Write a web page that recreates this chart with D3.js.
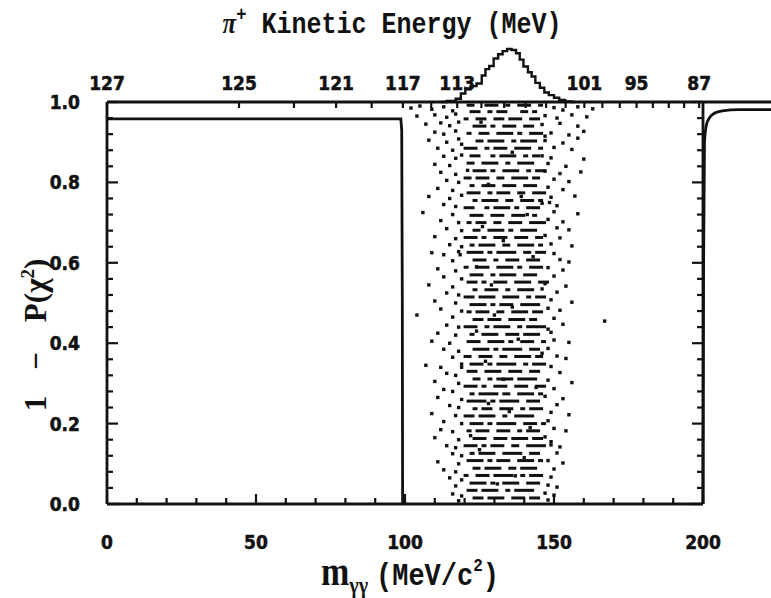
<!DOCTYPE html>
<html>
<head>
<meta charset="utf-8">
<script src="https://cdn.jsdelivr.net/npm/d3@7"></script>
<style>
  body { margin: 0; background: #fff; }
  svg { display: block; }
</style>
</head>
<body>
<div id="chart"></div>
<script>
//Width and height
let w = 771;
let h = 598;
let ink = "#111";
let tickFont = "'Liberation Sans Narrow', 'DejaVu Sans Condensed', 'Liberation Sans', sans-serif";
let monoFont = "'Liberation Mono', 'DejaVu Sans Mono', monospace";
let serifFont = "'Liberation Serif', 'DejaVu Serif', serif";

// kaon and pion masses (MeV), used for the pi+ kinetic energy axis on top
let massK = 493.7;
let massPi = 139.6;

// axis ticks
let xMajor = [0, 50, 100, 150, 200];
let yMajor = [0.0, 0.2, 0.4, 0.6, 0.8, 1.0];
let topTicks = [127, 125, 123, 121, 119, 117, 115, 113, 111, 109, 107, 105, 103, 101, 99, 97, 95, 93, 91, 89, 87];
let topLabels = [127, 125, 121, 117, 113, 101, 95, 87];

// acceptance curves, [m_gg, 1-P(chi2)]
let lowCut = [[0, 0.958], [98.6, 0.958], [98.9, 0.93], [99.1, 0.5], [99.2, 0]];
let highCut = [[200, 0], [200.2, 0.6], [200.5, 0.9], [201.2, 0.945], [202.3, 0.962], [203.8, 0.972], [206.5, 0.978], [212, 0.981], [224, 0.981]];

// pi+ kinetic energy spectrum drawn above the frame, [m_gg, relative counts]
let pionHist = [[112, 0], [116, 2], [118, 6], [119.5, 16], [121, 24], [123, 30], [125, 35], [126.5, 50],
  [127.5, 62], [129, 68], [130.5, 82], [132, 90], [133.5, 96], [135, 100], [136.5, 98], [138, 92],
  [139, 80], [140.5, 67], [142, 56], [143, 48], [144.5, 36], [146, 27], [147.5, 18], [149, 13],
  [151, 8], [152.5, 4], [155, 1], [157, 0]];

// dense band of events: [level, dash start, dash end, dash start, dash end, ...]
let coreRows = [
  [0.992, 121, 123, 127, 131, 134, 135, 138, 142, 145, 146],
  [0.976, 122, 125, 128, 129, 131, 134, 139, 141, 143, 144],
  [0.958, 120, 121, 124, 127, 130, 133, 135, 139, 142, 145],
  [0.940, 123, 127, 129, 130, 133, 137, 140, 143],
  [0.922, 121, 122, 125, 128, 131, 136, 138, 139, 142, 146],
  [0.903, 124, 126, 128, 133, 136, 137, 139, 144],
  [0.885, 120, 124, 127, 128, 130, 134, 137, 142, 145, 146],
  [0.866, 122, 125, 129, 130, 132, 137, 140, 141, 143, 145],
  [0.848, 121, 123, 126, 131, 134, 135, 138, 143],
  [0.829, 123, 127, 129, 130, 133, 138, 141, 142, 144, 147],
  [0.811, 120, 122, 124, 128, 131, 133, 136, 141, 143, 145],
  [0.792, 122, 123, 126, 130, 133, 137, 140, 144],
  [0.774, 121, 125, 128, 129, 131, 135, 138, 140, 143, 147],
  [0.755, 123, 124, 126, 131, 134, 136, 139, 143, 145, 146],
  [0.737, 120, 123, 127, 128, 130, 135, 137, 138, 141, 145],
  [0.718, 122, 126, 129, 133, 136, 140, 143, 144],
  [0.700, 121, 122, 124, 127, 130, 132, 135, 139, 142, 147],
  [0.681, 123, 125, 128, 133, 135, 136, 139, 144],
  [0.663, 120, 124, 126, 127, 130, 134, 137, 141, 144, 146],
  [0.644, 122, 123, 125, 130, 133, 135, 138, 143, 145, 146],
  [0.626, 121, 126, 128, 129, 131, 137, 140, 142, 144, 147],
  [0.607, 123, 127, 130, 131, 134, 138, 141, 145],
  [0.589, 120, 121, 124, 128, 131, 136, 138, 139, 142, 146],
  [0.570, 122, 126, 129, 130, 132, 137, 140, 144],
  [0.552, 121, 124, 126, 127, 130, 134, 137, 142, 145, 148],
  [0.533, 123, 124, 127, 131, 134, 135, 138, 143],
  [0.515, 120, 123, 125, 130, 133, 138, 141, 142, 144, 147],
  [0.496, 122, 127, 129, 130, 132, 136, 139, 145],
  [0.478, 121, 122, 124, 128, 131, 133, 136, 141, 143, 146],
  [0.459, 123, 126, 128, 132, 135, 140, 142, 144],
  [0.441, 120, 124, 127, 128, 130, 135, 138, 139, 141, 147],
  [0.422, 122, 123, 126, 131, 134, 138, 140, 145],
  [0.404, 121, 125, 128, 133, 135, 136, 139, 143, 146, 147],
  [0.385, 123, 128, 130, 131, 133, 139, 142, 145],
  [0.367, 120, 122, 125, 129, 132, 134, 137, 142, 144, 146],
  [0.348, 122, 126, 128, 129, 131, 137, 140, 141, 143, 147],
  [0.330, 121, 124, 127, 132, 135, 139, 142, 145],
  [0.311, 123, 125, 128, 129, 131, 136, 138, 144],
  [0.293, 120, 124, 126, 127, 130, 134, 137, 141, 144, 147],
  [0.274, 122, 123, 125, 131, 133, 135, 138, 143, 145, 146],
  [0.256, 121, 127, 129, 130, 132, 138, 141, 145],
  [0.237, 123, 124, 126, 129, 132, 136, 139, 140, 142, 146],
  [0.219, 120, 123, 125, 130, 133, 134, 137, 143],
  [0.200, 122, 126, 128, 129, 131, 137, 140, 144, 146, 147],
  [0.182, 121, 122, 124, 128, 131, 135, 138, 139, 141, 145],
  [0.163, 123, 127, 130, 134, 136, 141, 143, 146],
  [0.145, 120, 124, 126, 127, 129, 133, 136, 138, 141, 147],
  [0.126, 122, 123, 125, 130, 133, 139, 142, 145],
  [0.108, 121, 126, 128, 129, 131, 135, 138, 143, 145, 146],
  [0.089, 123, 125, 127, 132, 135, 137, 139, 144],
  [0.071, 120, 121, 124, 128, 130, 136, 139, 140, 142, 146],
  [0.052, 122, 127, 129, 130, 133, 138, 141, 145],
  [0.034, 121, 124, 126, 131, 134, 135, 137, 143],
  [0.015, 123, 126, 128, 133, 136, 140, 142, 145]
];

// isolated events in and around the band, [m_gg, level]
let looseDots = [
  [102, 0.985], [105, 0.99], [109, 0.982], [113, 0.988], [116, 0.978], [150, 0.986], [153, 0.98], [158, 0.988], [163, 0.983],
  [104, 0.965], [110, 0.968], [114, 0.962], [117, 0.97], [147, 0.966], [151, 0.96], [156, 0.968], [161, 0.963],
  [107, 0.945], [112, 0.948], [115, 0.941], [118, 0.95], [146, 0.944], [152, 0.947], [158, 0.94],
  [110, 0.925], [113, 0.92], [117, 0.928], [149, 0.923], [155, 0.918], [160, 0.927],
  [108, 0.905], [114, 0.9], [118, 0.908], [147, 0.904], [153, 0.898], [158, 0.91],
  [111, 0.885], [116, 0.88], [150, 0.887], [156, 0.882],
  [113, 0.865], [117, 0.86], [119, 0.868], [146, 0.866], [149, 0.861], [160, 0.858],
  [110, 0.845], [115, 0.842], [148, 0.847], [154, 0.84],
  [112, 0.825], [117, 0.82], [147, 0.828], [152, 0.822], [159, 0.826],
  [114, 0.805], [118, 0.8], [150, 0.808], [155, 0.802],
  [111, 0.785], [116, 0.78], [148, 0.788], [153, 0.782],
  [108, 0.765], [115, 0.76], [119, 0.768], [149, 0.763], [157, 0.766],
  [113, 0.745], [117, 0.74], [146, 0.748], [151, 0.742],
  [106, 0.725], [116, 0.72], [150, 0.727], [158, 0.722],
  [112, 0.705], [118, 0.7], [148, 0.708], [153, 0.702],
  [114, 0.685], [119, 0.68], [151, 0.687], [155, 0.682],
  [110, 0.665], [117, 0.66], [147, 0.668], [152, 0.662],
  [115, 0.645], [119, 0.64], [149, 0.647], [156, 0.642],
  [109, 0.625], [113, 0.62], [118, 0.628], [150, 0.623],
  [116, 0.605], [152, 0.608], [155, 0.602],
  [111, 0.585], [117, 0.58], [148, 0.588], [153, 0.582],
  [113, 0.565], [119, 0.56], [150, 0.567],
  [108, 0.545], [116, 0.54], [147, 0.548], [154, 0.542],
  [114, 0.525], [118, 0.52], [151, 0.527],
  [110, 0.505], [117, 0.5], [149, 0.508], [156, 0.502],
  [112, 0.485], [119, 0.48], [148, 0.487], [152, 0.482],
  [104, 0.47], [116, 0.465], [150, 0.462], [167, 0.455],
  [114, 0.445], [118, 0.44], [153, 0.447],
  [111, 0.425], [117, 0.42], [149, 0.427],
  [109, 0.405], [115, 0.4], [150, 0.408], [155, 0.402],
  [113, 0.385], [118, 0.38], [148, 0.387],
  [116, 0.365], [151, 0.368], [154, 0.362],
  [107, 0.345], [112, 0.34], [119, 0.348], [149, 0.342],
  [114, 0.325], [117, 0.32], [152, 0.327],
  [110, 0.305], [118, 0.3], [148, 0.308], [156, 0.302],
  [113, 0.285], [116, 0.28], [150, 0.287],
  [111, 0.265], [119, 0.26], [147, 0.268], [153, 0.262],
  [115, 0.245], [118, 0.24], [151, 0.247],
  [109, 0.225], [117, 0.22], [149, 0.228], [155, 0.222],
  [113, 0.205], [119, 0.2], [148, 0.207],
  [112, 0.185], [116, 0.18], [150, 0.188], [154, 0.182],
  [110, 0.165], [118, 0.16], [147, 0.167],
  [114, 0.145], [117, 0.14], [149, 0.147], [152, 0.142],
  [116, 0.125], [119, 0.12], [151, 0.127],
  [111, 0.105], [118, 0.1], [148, 0.108], [153, 0.102],
  [113, 0.085], [117, 0.08], [150, 0.087],
  [115, 0.065], [119, 0.06], [149, 0.067],
  [117, 0.045], [148, 0.047], [151, 0.042],
  [116, 0.025], [119, 0.02], [147, 0.027], [150, 0.022],
  [118, 0.008], [148, 0.01],
  [125.5, 0.95], [136, 0.875], [128, 0.795], [141, 0.72], [133, 0.655], [124, 0.59], [146, 0.535],
  [130, 0.47], [138, 0.41], [127, 0.355], [144, 0.29], [135, 0.23], [122, 0.17], [140, 0.115],
  [131, 0.05], [147, 0.915], [121, 0.83], [139, 0.765], [126, 0.69], [143, 0.615], [129, 0.545],
  [136, 0.49], [124, 0.43], [146, 0.375], [133, 0.31], [128, 0.25], [142, 0.19], [125, 0.135],
  [137, 0.07], [119, 0.895], [118.5, 0.62], [119, 0.34], [148.5, 0.75], [148, 0.435], [149, 0.155]
];

// m_gg where the pi+ has kinetic energy t (K+ decay at rest)
function massFromT(t) {
    let ePi = t + massPi;
    let m2 = massK * massK + massPi * massPi - 2 * massK * ePi;
    return Math.sqrt(Math.max(m2, 0));
}

let x = d3.scaleLinear().domain([0, 200]).range([107, 703]);
let y = d3.scaleLinear().domain([0, 1]).range([504, 102]);
let histScale = d3.scaleLinear().domain([0, 100]).range([0, 53]);

//Create SVG element
let svg = d3.select("#chart")
            .append("svg")
            .attr("width", w)
            .attr("height", h);

svg.append("rect").attr("width", w).attr("height", h).attr("fill", "#fff");

// events
let dashes = [];
coreRows.forEach(function(row) {
    for (let i = 1; i < row.length; i += 2) {
        dashes.push({lvl: row[0], a: row[i], b: row[i + 1]});
    }
});

svg.append("g").selectAll("rect")
   .data(dashes)
   .enter()
   .append("rect")
   .attr("x", function(d) { return x(d.a) - 1; })
   .attr("y", function(d) { return y(d.lvl) - 1.5; })
   .attr("width", function(d) { return x(d.b) - x(d.a) + 2; })
   .attr("height", 3)
   .attr("fill", ink);

svg.append("g").selectAll("rect")
   .data(looseDots)
   .enter()
   .append("rect")
   .attr("x", function(d) { return x(d[0]) - 1.7; })
   .attr("y", function(d) { return y(d[1]) - 1.7; })
   .attr("width", 3.4)
   .attr("height", 3.4)
   .attr("fill", ink);

// frame
let frame = svg.append("g")
               .attr("fill", "none")
               .attr("stroke", ink)
               .attr("stroke-width", 2.8);

frame.append("line").attr("x1", x(0)).attr("x2", x(0)).attr("y1", y(0)).attr("y2", y(1));
frame.append("line").attr("x1", x(0)).attr("x2", x(200)).attr("y1", y(0)).attr("y2", y(0));
frame.append("line").attr("x1", x(200)).attr("x2", x(200)).attr("y1", y(0)).attr("y2", y(1));
frame.append("line").attr("x1", x(0)).attr("x2", w).attr("y1", y(1)).attr("y2", y(1));

// ticks
let ticks = svg.append("g").attr("stroke", ink).attr("stroke-width", 2.2);

d3.range(0, 201, 10).forEach(function(v) {
    let len = xMajor.indexOf(v) >= 0 ? 10 : 6;
    ticks.append("line").attr("x1", x(v)).attr("x2", x(v)).attr("y1", y(0)).attr("y2", y(0) - len);
});

d3.range(0, 26).forEach(function(i) {
    let v = i * 0.04;
    let len = (i % 5 === 0) ? 11 : 6;
    ticks.append("line").attr("x1", x(0)).attr("x2", x(0) + len).attr("y1", y(v)).attr("y2", y(v));
    ticks.append("line").attr("x1", x(200)).attr("x2", x(200) - len).attr("y1", y(v)).attr("y2", y(v));
});

topTicks.forEach(function(t) {
    let m = massFromT(t);
    ticks.append("line").attr("x1", x(m)).attr("x2", x(m)).attr("y1", y(1)).attr("y2", y(1) + 6);
});

// tick labels
function tickLabel(sel) {
    sel.style("font", "bold 19px " + tickFont)
       .attr("fill", ink)
       .attr("stroke", ink)
       .attr("stroke-width", 0.5);
}

svg.append("g").selectAll("text")
   .data(xMajor)
   .enter()
   .append("text")
   .attr("x", function(d) { return x(d); })
   .attr("y", 549)
   .attr("text-anchor", "middle")
   .call(tickLabel)
   .text(function(d) { return d; });

svg.append("g").selectAll("text")
   .data(yMajor)
   .enter()
   .append("text")
   .attr("x", 80)
   .attr("y", function(d) { return y(d) + 7; })
   .attr("text-anchor", "end")
   .call(tickLabel)
   .text(function(d) { return d.toFixed(1); });

svg.append("g").selectAll("text")
   .data(topLabels)
   .enter()
   .append("text")
   .attr("x", function(d) { return x(massFromT(d)); })
   .attr("y", 90)
   .attr("text-anchor", "middle")
   .call(tickLabel)
   .text(function(d) { return d; });

// acceptance curves
let line = d3.line()
             .x(function(d) { return x(d[0]); })
             .y(function(d) { return y(d[1]); });

svg.append("path").datum(lowCut).attr("d", line)
   .attr("fill", "none").attr("stroke", ink).attr("stroke-width", 2.8);

svg.append("path").datum(highCut).attr("d", line.curve(d3.curveMonotoneX))
   .attr("fill", "none").attr("stroke", ink).attr("stroke-width", 2.8);

// pi+ spectrum on top of the frame
let histLine = d3.line()
                 .x(function(d) { return x(d[0]); })
                 .y(function(d) { return y(1) - histScale(d[1]); })
                 .curve(d3.curveStep);

svg.append("path").datum(pionHist).attr("d", histLine)
   .attr("fill", "none").attr("stroke", ink).attr("stroke-width", 2.4);

// titles
let topTitle = svg.append("text")
                  .attr("transform", "translate(392,33) scale(1,1.2)")
                  .attr("text-anchor", "middle")
                  .style("font", "bold 25px " + monoFont)
                  .attr("fill", ink);
topTitle.append("tspan").style("font-family", serifFont).style("font-style", "italic").text("π");
topTitle.append("tspan").attr("dy", -10).style("font-size", "17px").text("+");
topTitle.append("tspan").attr("dy", 10).text(" Kinetic Energy (MeV)");

let xTitle = svg.append("text")
                .attr("transform", "translate(410,585) scale(1,1.15)")
                .attr("text-anchor", "middle")
                .style("font", "bold 27px " + monoFont)
                .attr("fill", ink);
xTitle.append("tspan").style("font", "bold 34px " + serifFont).text("m");
xTitle.append("tspan").attr("dy", 7).style("font", "bold 20px " + serifFont).text("γγ");
xTitle.append("tspan").attr("dy", -7).attr("dx", 8).text("(MeV/c");
xTitle.append("tspan").attr("dy", -12).style("font-size", "16px").text("2");
xTitle.append("tspan").attr("dy", 12).text(")");

let yTitle = svg.append("text")
                .attr("transform", "translate(46,335) rotate(-90)")
                .attr("text-anchor", "middle")
                .style("font", "bold 31px " + serifFont)
                .attr("fill", ink);
yTitle.append("tspan").text("1");
yTitle.append("tspan").attr("dx", 26).text("−");
yTitle.append("tspan").attr("dx", 30).text("P(χ");
yTitle.append("tspan").attr("dy", -12).style("font-size", "19px").text("2");
yTitle.append("tspan").attr("dy", 12).text(")");
</script>
</body>
</html>
